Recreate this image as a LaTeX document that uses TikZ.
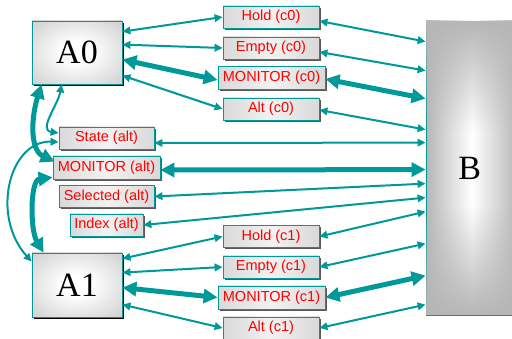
\documentclass[tikz,border=0pt]{standalone}
\usepackage{fontspec}
\setmainfont{Liberation Serif}
\newfontfamily\labelfont{Liberation Sans}
\usetikzlibrary{arrows.meta,calc,shadows,fadings}
\definecolor{linkteal}{RGB}{0,153,153}
\definecolor{boxgray}{RGB}{192,192,192}
\definecolor{edgegray}{RGB}{176,176,176}
\definecolor{midgray}{RGB}{214,214,214}
\definecolor{lightgray}{RGB}{242,242,242}
\definecolor{lblred}{RGB}{255,0,0}
% banded fill for the signal boxes, glow for the A blocks
\pgfdeclarehorizontalshading{lblband}{100bp}{color(0bp)=(edgegray); color(22bp)=(midgray); color(50bp)=(lightgray); color(78bp)=(midgray); color(100bp)=(edgegray)}
\pgfdeclareradialshading{blockglow}{\pgfpoint{0bp}{0bp}}{color(0bp)=(white); color(8bp)=(white); color(50bp)=(boxgray!95!black); color(72bp)=(boxgray!85!black)}
\tikzfading[name=fadedown, top color=transparent!0, bottom color=transparent!100]
\tikzfading[name=fadeup, top color=transparent!100, bottom color=transparent!0]
\tikzset{
  lbl/.style={draw=linkteal, line width=0.8pt, shading=lblband,
    text=lblred, font=\labelfont\fontsize{14.5}{16}\selectfont,
    minimum width=96pt, minimum height=22pt, inner sep=0pt,
    drop shadow={shadow xshift=1.6pt, shadow yshift=-1.6pt, fill=black!65, opacity=1}},
  monw/.style={minimum width=107pt, minimum height=23pt},
  bigbox/.style={draw=linkteal, line width=0.8pt, shading=blockglow,
    font=\fontsize{34}{38}\selectfont, minimum width=90pt, minimum height=63pt, inner sep=0pt,
    drop shadow={shadow xshift=1.8pt, shadow yshift=-1.8pt, fill=black, opacity=1}},
  bbox/.style={draw=linkteal, line width=0.8pt, left color=boxgray!95!black, right color=boxgray!95!black, middle color=white,
    minimum width=92pt, minimum height=294pt, inner sep=0pt,
    drop shadow={shadow xshift=1.5pt, shadow yshift=-1.5pt, fill=black, opacity=1}},
  thinlink/.style={linkteal, line width=2pt,
    {Triangle[length=8pt,width=7.5pt]}-{Triangle[length=8pt,width=7.5pt]}},
  thicklink/.style={linkteal, line width=5pt,
    {Triangle[length=14pt,width=14pt]}-{Triangle[length=14pt,width=14pt]}},
}
\begin{document}
\begin{tikzpicture}[x=1pt,y=-1pt]
\useasboundingbox (0,0) rectangle (512,339);

% main blocks
\node[bigbox] (A0) at (77,52.5) {A0};
\node[bigbox, minimum height=64pt] (A1) at (77,285) {A1};
\node[bbox] (B) at (472,168) {};
% darker top and bottom of block B
\fill[boxgray!95!black, path fading=fadedown] ($(B.north west)+(0.5,0.5)$) rectangle ($(B.north east)+(-0.5,110)$);
\fill[boxgray!95!black, path fading=fadeup] ($(B.south west)+(0.5,-110)$) rectangle ($(B.south east)+(-0.5,-0.5)$);
\node[font=\fontsize{34}{38}\selectfont] (Blabel) at ($(B.west)+(44,0)$) {B};

% channel c0 signals
\node[lbl] (holdA) at (271,17) {Hold (c0)};
\node[lbl] (emptyA) at (271,48) {Empty (c0)};
\node[lbl, monw] (monA) at (271.5,78) {MONITOR (c0)};
\node[lbl] (altA) at (271,109) {Alt (c0)};

% alternation signals
\node[lbl, minimum width=95pt] (state) at (106.5,138) {State (alt)};
\node[lbl, monw] (monAlt) at (106.5,167.5) {MONITOR (alt)};
\node[lbl, minimum width=95pt] (sel) at (106.5,196.5) {Selected (alt)};
\node[lbl, minimum width=73pt] (idx) at (106.5,225) {Index (alt)};

% channel c1 signals
\node[lbl] (holdB) at (271,236.5) {Hold (c1)};
\node[lbl] (emptyB) at (271,267) {Empty (c1)};
\node[lbl, monw] (monB) at (271.5,297.5) {MONITOR (c1)};
\node[lbl] (altB) at (271,328) {Alt (c1)};

% A0 to the c0 signals
\draw[thinlink] ($(A0.north east)+(0,11)$) -- (holdA.west);
\draw[thinlink] ($(A0.north east)+(0,24)$) -- (emptyA.west);
\draw[thicklink] ($(A0.north east)+(0,39)$) -- ($(monA.west)+(0,2)$);
\draw[thinlink] ($(A0.north east)+(0,55)$) -- (altA.west);

% signals to B
\draw[thinlink] ($(holdA.east)+(0,4)$) -- ($(B.north west)+(0,21)$);
\draw[thinlink] ($(emptyA.east)+(0,4)$) -- ($(B.north west)+(0,50)$);
\draw[thicklink] ($(monA.east)+(0,1)$) -- ($(B.north west)+(0,78)$);
\draw[thinlink] ($(altA.east)+(0,1)$) -- ($(B.north west)+(0,109)$);
\draw[thinlink] ($(state.east)+(0,5)$) -- ($(B.north west)+(0,122)$);
\draw[thicklink] ($(monAlt.east)+(0,2.5)$) -- ($(B.north west)+(0,149)$);
\draw[thinlink] (sel.east) -- ($(B.north west)+(0,163)$);
\draw[thinlink] (idx.east) -- ($(B.north west)+(0,177)$);
\draw[thinlink] (holdB.east) -- ($(B.north west)+(0,191)$);
\draw[thinlink] (emptyB.east) -- ($(B.north west)+(0,223)$);
\draw[thicklink] (monB.east) -- ($(B.north west)+(0,255)$);
\draw[thinlink] (altB.east) -- ($(B.north west)+(0,284)$);

% A1 to the c1 signals
\draw[thinlink] ($(A1.north east)+(0,6)$) -- (holdB.west);
\draw[thinlink] ($(A1.north east)+(0,20)$) -- (emptyB.west);
\draw[thicklink] ($(A1.north east)+(0,35)$) -- (monB.west);
\draw[thinlink] ($(A1.north east)+(0,52)$) -- (altB.west);

% A0 / A1 to the alternation signals
\draw[thicklink] ($(A0.south west)+(10,0)$) .. controls (31,118) and (30,150) .. ($(monAlt.north west)+(2,6)$);
\draw[thinlink] ($(A0.south west)+(30,0)$) .. controls (58,105) and (38,130) .. ($(state.west)+(0,-5)$);
\draw[thinlink] ($(state.west)+(0,4)$) .. controls (10,140) and (-10,215) .. ($(A1.north west)+(0,9)$);
\draw[thicklink] ($(monAlt.south west)+(0,-2)$) .. controls (30,180) and (30,230) .. ($(A1.north west)+(12,0)$);
\end{tikzpicture}
\end{document}
